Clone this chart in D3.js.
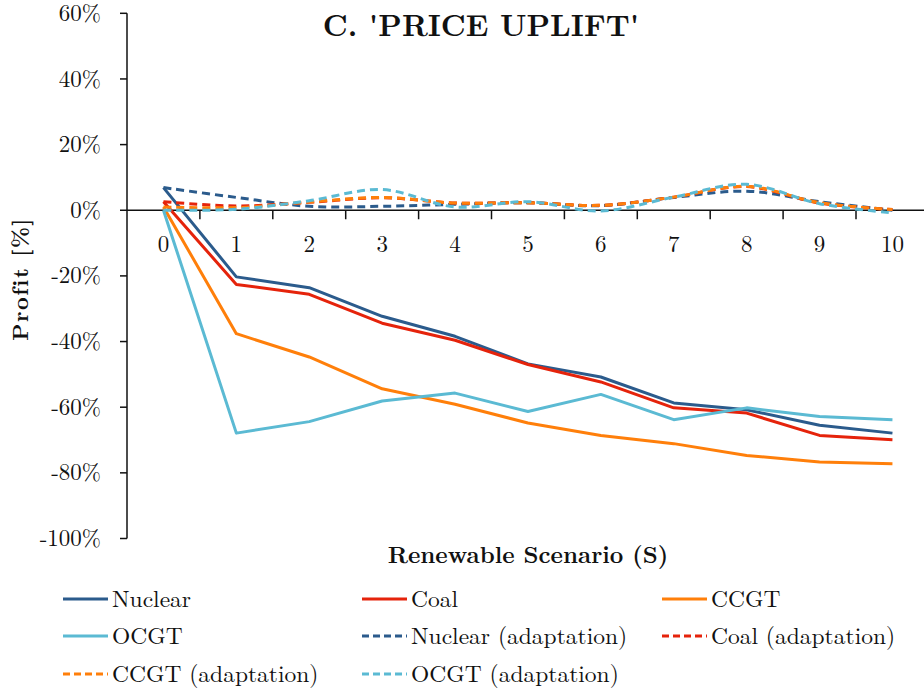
<!DOCTYPE html>
<html><head><meta charset="utf-8">
<script src="https://cdn.jsdelivr.net/npm/d3@7"></script>
<style>
body{margin:0;background:#fff;}
</style></head>
<body><svg id="c" width="924" height="692"></svg>
<script>
const scenarios = ["0","1","2","3","4","5","6","7","8","9","10"];
const yTicks = [60,40,20,0,-20,-40,-60,-80,-100];
const seriesNames = ["Nuclear","Coal","CCGT","OCGT","Nuclear (adaptation)","Coal (adaptation)","CCGT (adaptation)","OCGT (adaptation)"];
const nuclear = [6.9,-20.3,-23.6,-32.3,-38.4,-46.8,-50.8,-58.7,-60.8,-65.5,-67.9];
const coal    = [2.6,-22.6,-25.6,-34.4,-39.6,-47.0,-52.3,-60.2,-61.8,-68.6,-69.9];
const ccgt    = [1.0,-37.6,-44.7,-54.4,-59.1,-64.8,-68.6,-71.1,-74.7,-76.7,-77.2];
const ocgt    = [0.0,-67.9,-64.4,-58.1,-55.7,-61.3,-56.1,-63.8,-60.2,-62.8,-63.8];
const nuclearAdapt = [6.9,3.9,1.2,1.2,1.8,2.3,1.4,3.9,5.8,2.6,0.0];
const coalAdapt    = [2.6,1.3,2.4,3.8,2.2,2.3,1.5,4.0,7.2,2.2,0.2];
const ccgtAdapt    = [1.0,0.8,2.5,3.9,2.2,2.3,1.5,4.0,7.3,2.3,0.2];
const ocgtAdapt    = [0.0,0.3,2.9,6.3,1.0,2.6,-0.2,4.0,7.9,2.0,-0.8];

const colors = ["#2B5B8C","#E5230B","#FF7F0A","#5BBAD3","#2B5B8C","#E5230B","#FF7F0A","#5BBAD3"];
const data = [nuclear,coal,ccgt,ocgt,nuclearAdapt,coalAdapt,ccgtAdapt,ocgtAdapt];
const dashed = [false,false,false,false,true,true,true,true];
const FONT = "Latin Modern Roman";

const svg = d3.select("#c");
const x = d3.scaleBand().domain(scenarios).range([127, 127+11*72.9]).paddingInner(0).paddingOuter(0);
const y = d3.scaleLinear().domain([-100,60]).range([538.5,13.3]);

function txt(sel){ return sel.attr("font-family",FONT).attr("fill","#111"); }

// y axis
svg.append("line").attr("x1",127).attr("x2",127).attr("y1",y(60)).attr("y2",y(-100)).attr("stroke","#111").attr("stroke-width",1.5);
yTicks.forEach(t=>{
  svg.append("line").attr("x1",120).attr("x2",127).attr("y1",y(t)).attr("y2",y(t)).attr("stroke","#111").attr("stroke-width",1.5);
  txt(svg.append("text")).attr("x",101).attr("y",y(t)).attr("dy","0.33em").attr("text-anchor","end")
     .attr("font-size",23).text(t+"%");
});
// x axis
svg.append("line").attr("x1",127).attr("x2",924).attr("y1",y(0)).attr("y2",y(0)).attr("stroke","#111").attr("stroke-width",1.5);
scenarios.forEach((s,i)=>{
  if(i>0) svg.append("line").attr("x1",x(s)).attr("x2",x(s)).attr("y1",y(0)).attr("y2",y(0)+9).attr("stroke","#111").attr("stroke-width",1.5);
  txt(svg.append("text")).attr("x",x(s)+x.bandwidth()/2).attr("y",252).attr("text-anchor","middle")
     .attr("font-size",23).text(s);
});

// series
const lineStraight = d3.line().x((d,i)=>x(scenarios[i])+x.bandwidth()/2).y(d=>y(d));
const lineSmooth = d3.line().x((d,i)=>x(scenarios[i])+x.bandwidth()/2).y(d=>y(d)).curve(d3.curveCatmullRom.alpha(0));
data.forEach((vals,k)=>{
  svg.append("path").attr("d",(dashed[k]?lineSmooth:lineStraight)(vals))
    .attr("fill","none").attr("stroke",colors[k]).attr("stroke-width",3)
    .attr("stroke-dasharray",dashed[k]?"8,5":null).attr("stroke-linejoin","round");
});

// title
txt(svg.append("text")).attr("x",481).attr("y",36).attr("text-anchor","middle")
  .attr("font-size",30).attr("font-weight","bold").text("C. 'PRICE UPLIFT'");
// axis titles
txt(svg.append("text")).attr("transform","translate(28,279) rotate(-90)").attr("text-anchor","middle")
  .attr("font-size",22).attr("font-weight","bold").attr("letter-spacing",1.5).text("Profit [%]");
txt(svg.append("text")).attr("x",528).attr("y",563).attr("text-anchor","middle")
  .attr("font-size",23.5).attr("font-weight","bold").text("Renewable Scenario (S)");

// legend
const legCols = [63,362,662];
const legRows = [599,636,674];
seriesNames.forEach((n,k)=>{
  const cx = legCols[k%3], cy = legRows[Math.floor(k/3)];
  svg.append("line").attr("x1",cx).attr("x2",cx+45).attr("y1",cy).attr("y2",cy)
    .attr("stroke",colors[k]).attr("stroke-width",3).attr("stroke-dasharray",dashed[k]?"7,4":null);
  txt(svg.append("text")).attr("x",cx+49).attr("y",cy).attr("dy","0.33em").attr("font-size",23.5).text(n);
});
</script></body></html>
